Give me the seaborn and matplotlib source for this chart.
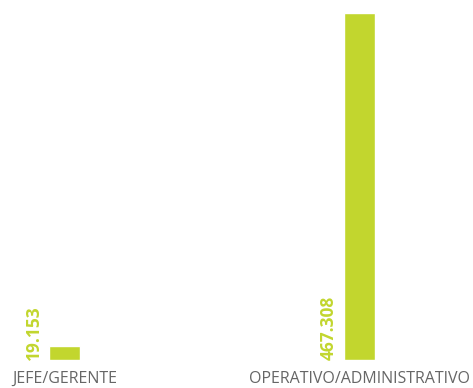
import matplotlib
matplotlib.use("Agg")
import matplotlib.pyplot as plt
import seaborn as sns
import pandas as pd

categories = ["JEFE/GERENTE", "OPERATIVO/ADMINISTRATIVO"]
values = [19.153, 467.308]
value_labels = ["19.153", "467.308"]

sns.set_theme(style="white")
plt.rcParams['font.family'] = ['Open Sans', 'DejaVu Sans']

df = pd.DataFrame({"cat": categories, "val": values})

fig = plt.figure(figsize=(4.73, 3.88), dpi=100)
ax = fig.add_axes([0, 0.0722, 1, 0.8943])
bar_w = 0.105
sns.barplot(data=df, x="cat", y="val", color="#c2d62e", saturation=1,
            width=bar_w, ax=ax)
ax.set_xlim(-0.2186, 1.3847)
ax.set_ylim(0, 467.308)
for s in ax.spines.values():
    s.set_visible(False)
ax.set_yticks([])
ax.set_xlabel("")
ax.set_ylabel("")
ax.tick_params(axis="x", length=0, pad=8, labelsize=11.5, labelcolor="#666666")

for i, (v, lab) in enumerate(zip(values, value_labels)):
    ax.annotate(lab, xy=(i - bar_w / 2, 0), xytext=(-4.5, 0),
                textcoords="offset points", ha="right", va="bottom",
                rotation=90, color="#c2d62e", fontsize=12.5,
                fontweight="bold")

fig.savefig("out.png", dpi=100)
